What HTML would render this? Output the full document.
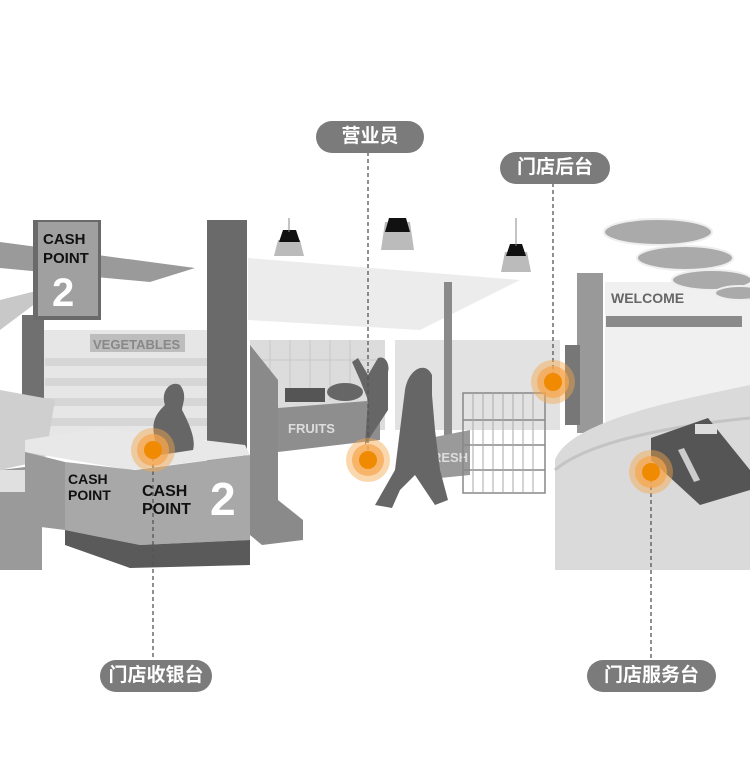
<!DOCTYPE html>
<html><head><meta charset="utf-8"><style>
body{margin:0;background:#fff;width:750px;height:778px;overflow:hidden;position:relative;font-family:"Liberation Sans","Noto Sans CJK SC",sans-serif}
.pill{position:absolute;background:#7b7b7b;color:#fff;font-size:19px;font-weight:bold;border-radius:16px;height:32px;line-height:32px;text-align:center}
</style></head><body>
<svg width="750" height="778" style="position:absolute;left:0;top:0" font-family="Liberation Sans, sans-serif">
<polygon points="248,258 520,280 420,330 248,320" fill="#ececec"/>
<rect x="40" y="330" width="170" height="110" fill="#e6e6e6"/>
<g fill="#d6d6d6"><rect x="45" y="418" width="165" height="8"/><rect x="45" y="398" width="165" height="8"/><rect x="45" y="378" width="165" height="8"/><rect x="45" y="358" width="165" height="8"/></g>
<rect x="90" y="334" width="95" height="18" fill="#bdbdbd"/>
<text x="93" y="349" font-size="13" font-weight="bold" fill="#888">VEGETABLES</text>
<polygon points="0,242 195,268 150,282 0,268" fill="#9a9a9a"/>
<polygon points="0,300 60,285 0,330" fill="#c8c8c8"/>
<rect x="22" y="315" width="22" height="140" fill="#707070"/>
<polygon points="0,390 55,400 45,460 0,470" fill="#cfcfcf"/>
<polygon points="0,470 42,465 42,570 0,570" fill="#9a9a9a"/>
<rect x="0" y="470" width="42" height="22" fill="#e0e0e0"/>
<!-- cash sign -->
<rect x="33" y="220" width="68" height="100" fill="#6a6a6a"/>
<rect x="38" y="222" width="60" height="94" fill="#a0a0a0"/>
<text x="43" y="244" font-size="15" font-weight="bold" fill="#111">CASH</text>
<text x="43" y="263" font-size="15" font-weight="bold" fill="#111">POINT</text>
<text x="52" y="306" font-size="40" font-weight="bold" fill="#fff">2</text>
<rect x="250" y="340" width="135" height="90" fill="#dcdcdc"/>
<g stroke="#c8c8c8"><line x1="270" y1="340" x2="270" y2="400"/><line x1="290" y1="340" x2="290" y2="400"/><line x1="310" y1="340" x2="310" y2="400"/><line x1="330" y1="340" x2="330" y2="400"/><line x1="350" y1="340" x2="350" y2="400"/><line x1="250" y1="360" x2="385" y2="360"/></g>
<polygon points="278,408 380,400 380,440 278,452" fill="#8e8e8e"/>
<text x="288" y="433" font-size="13" font-weight="bold" fill="#ddd">FRUITS</text>
<rect x="285" y="388" width="40" height="14" fill="#555"/>
<ellipse cx="345" cy="392" rx="18" ry="9" fill="#666"/>
<rect x="395" y="340" width="165" height="90" fill="#e2e2e2"/>
<rect x="444" y="282" width="8" height="160" fill="#8a8a8a"/>
<polygon points="420,440 470,430 470,475 420,480" fill="#9a9a9a"/>
<text x="424" y="462" font-size="13" font-weight="bold" fill="#ddd">FRESH</text>
<rect x="207" y="220" width="40" height="310" fill="#6a6a6a"/>
<polygon points="250,345 278,380 278,500 303,520 303,540 262,545 250,535" fill="#8a8a8a"/>
<polygon points="25,440 100,428 245,445 250,455 130,470 25,452" fill="#e8e8e8"/>
<polygon points="25,452 65,462 65,530 25,525" fill="#9a9a9a"/>
<polygon points="65,462 135,470 250,455 250,540 140,545 65,530" fill="#a8a8a8"/>
<polygon points="65,530 140,545 250,540 250,565 130,568 65,545" fill="#5a5a5a"/>
<text x="68" y="484" font-size="14" font-weight="bold" fill="#111">CASH</text>
<text x="68" y="500" font-size="14" font-weight="bold" fill="#111">POINT</text>
<text x="142" y="496" font-size="16" font-weight="bold" fill="#111">CASH</text>
<text x="142" y="514" font-size="16" font-weight="bold" fill="#111">POINT</text>
<text x="210" y="515" font-size="46" font-weight="bold" fill="#fff">2</text>
<path d="M160,455 L155,440 C150,420 158,412 165,405 C160,390 172,380 180,385 C188,395 182,405 182,410 C190,425 196,440 193,450 Z" fill="#666"/>
<g fill="#bbb"><polygon points="278,240 300,240 304,256 274,256"/><polygon points="385,222 410,222 414,250 381,250"/><polygon points="505,252 527,252 531,272 501,272"/></g>
<g fill="#111"><polygon points="283,230 296,230 300,242 279,242"/><polygon points="389,218 406,218 410,232 385,232"/><polygon points="510,244 522,244 526,256 506,256"/></g>
<g stroke="#888"><line x1="289" y1="218" x2="289" y2="232"/><line x1="516" y1="218" x2="516" y2="246"/></g>
<path d="M365,445 L368,400 L360,380 L352,362 L358,358 L368,375 L378,358 C386,355 390,365 388,372 L388,410 Z" fill="#666"/>
<path d="M375,505 L395,470 L400,430 L405,390 C408,370 425,360 432,375 L432,395 L435,430 L440,470 L448,500 L435,505 L425,490 L415,475 L400,490 L392,508 Z" fill="#666"/>
<g stroke="#888" fill="none" stroke-width="1.5"><rect x="463" y="393" width="82" height="100"/><line x1="463" y1="420" x2="545" y2="420"/><line x1="463" y1="445" x2="545" y2="445"/><line x1="463" y1="470" x2="545" y2="470"/></g>
<g stroke="#aaa"><line x1="473" y1="393" x2="473" y2="493"/><line x1="483" y1="393" x2="483" y2="493"/><line x1="493" y1="393" x2="493" y2="493"/><line x1="503" y1="393" x2="503" y2="493"/><line x1="513" y1="393" x2="513" y2="493"/><line x1="523" y1="393" x2="523" y2="493"/><line x1="533" y1="393" x2="533" y2="493"/></g>
<rect x="605" y="282" width="145" height="140" fill="#f0f0f0"/>
<rect x="606" y="316" width="136" height="11" fill="#8a8a8a"/>
<text x="611" y="303" font-size="14" font-weight="bold" fill="#666">WELCOME</text>
<rect x="577" y="273" width="26" height="160" fill="#999"/>
<rect x="565" y="345" width="15" height="80" fill="#777"/>
<path d="M555,570 L555,460 C570,420 680,400 750,385 L750,570 Z" fill="#dadada"/>
<path d="M555,470 C590,440 680,425 750,418" stroke="#c4c4c4" fill="none" stroke-width="3"/>
<polygon points="651,438 708,418 750,470 750,490 700,505 651,460" fill="#555"/>
<rect x="695" y="424" width="22" height="10" fill="#ddd"/>
<polygon points="678,450 684,448 700,480 694,482" fill="#ccc"/>
<g fill="#aaa" stroke="#eee" stroke-width="2"><ellipse cx="658" cy="232" rx="54" ry="13"/><ellipse cx="685" cy="258" rx="48" ry="12"/><ellipse cx="712" cy="280" rx="40" ry="10"/><ellipse cx="740" cy="293" rx="25" ry="7"/></g>
<g stroke="#555" stroke-width="1.3" stroke-dasharray="4,3"><line x1="368" y1="152" x2="368" y2="460"/><line x1="553" y1="183" x2="553" y2="382"/><line x1="153" y1="450" x2="153" y2="660"/><line x1="651" y1="472" x2="651" y2="660"/></g>
<g><circle cx="153" cy="450" r="22" fill="#f7a74c" opacity="0.45"/><circle cx="153" cy="450" r="16" fill="#f7a74c" opacity="0.7"/><circle cx="153" cy="450" r="9" fill="#f08a00"/>
<circle cx="368" cy="460" r="22" fill="#f7a74c" opacity="0.45"/><circle cx="368" cy="460" r="16" fill="#f7a74c" opacity="0.7"/><circle cx="368" cy="460" r="9" fill="#f08a00"/>
<circle cx="553" cy="382" r="22" fill="#f7a74c" opacity="0.45"/><circle cx="553" cy="382" r="16" fill="#f7a74c" opacity="0.7"/><circle cx="553" cy="382" r="9" fill="#f08a00"/>
<circle cx="651" cy="472" r="22" fill="#f7a74c" opacity="0.45"/><circle cx="651" cy="472" r="16" fill="#f7a74c" opacity="0.7"/><circle cx="651" cy="472" r="9" fill="#f08a00"/></g>
</svg>
<div class="pill" style="left:316px;top:121px;width:108px">营业员</div>
<div class="pill" style="left:500px;top:152px;width:110px">门店后台</div>
<div class="pill" style="left:100px;top:660px;width:112px">门店收银台</div>
<div class="pill" style="left:587px;top:660px;width:129px">门店服务台</div>
</body></html>
